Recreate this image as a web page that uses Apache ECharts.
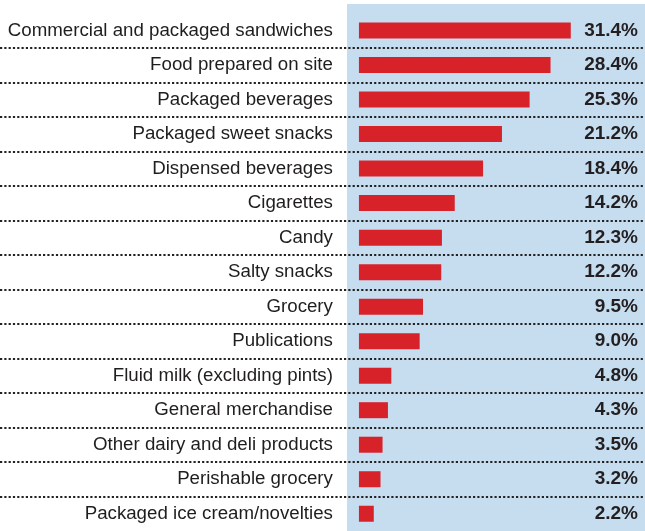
<!DOCTYPE html>
<html>
<head>
<meta charset="utf-8">
<script src="https://cdn.jsdelivr.net/npm/echarts@6/dist/echarts.min.js"></script>
<style>
  html, body { margin: 0; padding: 0; background: #fff; }
  #chart { width: 645px; height: 531px; }
</style>
</head>
<body>
<div id="chart"></div>
<script>
// categories, top to bottom
var categories = [
  "Commercial and packaged sandwiches",
  "Food prepared on site",
  "Packaged beverages",
  "Packaged sweet snacks",
  "Dispensed beverages",
  "Cigarettes",
  "Candy",
  "Salty snacks",
  "Grocery",
  "Publications",
  "Fluid milk (excluding pints)",
  "General merchandise",
  "Other dairy and deli products",
  "Perishable grocery",
  "Packaged ice cream/novelties"
];
var shares = [31.4, 28.4, 25.3, 21.2, 18.4, 14.2, 12.3, 12.2, 9.5, 9.0, 4.8, 4.3, 3.5, 3.2, 2.2];
var shareLabels = shares.map(function (v) { return v.toFixed(1) + "%"; });

var mychart = echarts.init(document.getElementById("chart"));
var option = {
  animation: false,
  // light blue panel behind the bars
  graphic: [
    {
      type: "rect",
      z: -10,
      shape: { x: 347, y: 4, width: 298, height: 527 },
      style: { fill: "#c6ddf0" },
      silent: true
    }
  ],
  grid: {
    left: 0,
    right: 0,
    top: 13.3,
    height: 520.5
  },
  xAxis: {
    type: "value",
    min: -53.2,
    max: 42.4,
    show: false
  },
  yAxis: [
    {
      type: "category",
      data: categories,
      inverse: true,
      axisLine: { show: false },
      axisTick: { show: false },
      axisLabel: { show: false },
      splitLine: {
        show: true,
        showMinLine: false,
        showMaxLine: false,
        lineStyle: { color: "#222", width: 2.2, type: [2.2, 2.1] }
      }
    },
    {
      type: "category",
      data: shareLabels,
      inverse: true,
      position: "right",
      axisLine: { show: false },
      axisTick: { show: false },
      splitLine: { show: false },
      axisLabel: {
        inside: true,
        margin: 7,
        color: "#231f20",
        fontFamily: "Liberation Sans, Arial, sans-serif",
        fontWeight: "bold",
        fontSize: 19
      }
    }
  ],
  series: [
    {
      type: "bar",
      data: shares,
      barWidth: 16,
      itemStyle: { color: "#d7222a" },
      label: {
        show: true,
        position: "left",
        distance: 26,
        formatter: "{b}",
        color: "#1f1d1e",
        fontFamily: "Liberation Sans, Arial, sans-serif",
        fontSize: 18.7
      }
    }
  ]
};
mychart.setOption(option);
</script>
</body>
</html>
